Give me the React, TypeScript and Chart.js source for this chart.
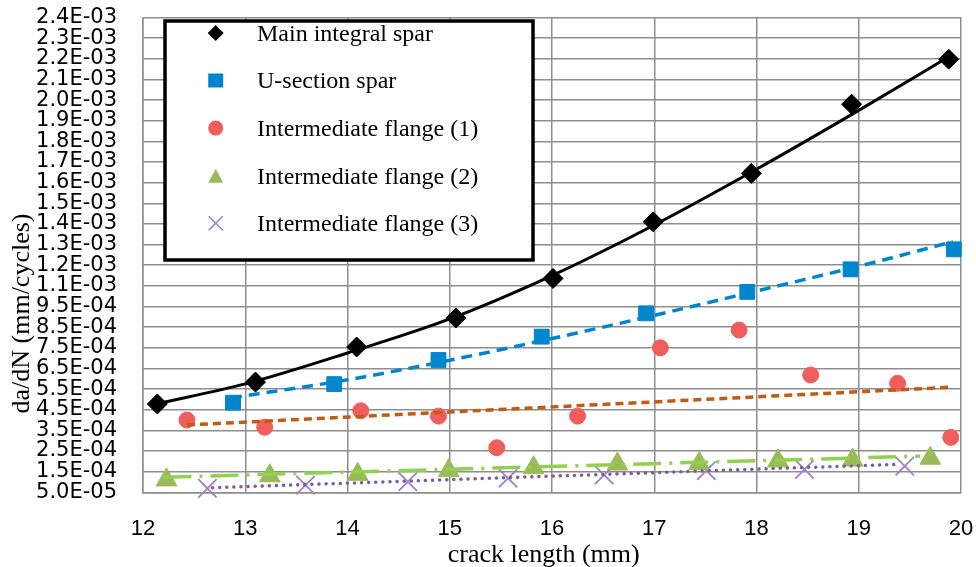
import React, { useEffect, useRef } from 'react';
import { Chart, registerables } from 'chart.js';

Chart.register(...registerables);

// ---------- data ----------
const mainX = [12.14, 13.1, 14.09, 15.06, 16.01, 16.99, 17.95, 18.93, 19.88];
const mainY = [4.78e-4, 5.84e-4, 7.54e-4, 8.94e-4, 1.086e-3, 1.36e-3, 1.595e-3, 1.93e-3, 2.148e-3];
const mainTrendX = [12.13, 13, 14, 15, 16, 17, 18, 19, 19.88];
const mainTrendY = [4.78e-4, 5.75e-4, 7.25e-4, 8.9e-4, 1.1e-3, 1.345e-3, 1.615e-3, 1.9e-3, 2.16e-3];

const uX = [12.88, 13.87, 14.89, 15.9, 16.92, 17.91, 18.92, 19.93];
const uY = [4.84e-4, 5.74e-4, 6.91e-4, 8.04e-4, 9.17e-4, 1.021e-3, 1.13e-3, 1.227e-3];
const uTrendX = [12.86, 14, 15, 16, 17, 18, 19, 19.92];
const uTrendY = [5.07e-4, 5.95e-4, 6.9e-4, 7.95e-4, 9.07e-4, 1.025e-3, 1.145e-3, 1.264e-3];

const f1X = [12.43, 13.19, 14.13, 14.89, 15.46, 16.25, 17.06, 17.83, 18.53, 19.38, 19.9];
const f1Y = [4.0e-4, 3.65e-4, 4.45e-4, 4.19e-4, 2.66e-4, 4.19e-4, 7.5e-4, 8.36e-4, 6.18e-4, 5.78e-4, 3.16e-4];
const f1TrendX = [12.43, 19.9];
const f1TrendY = [3.76e-4, 5.59e-4];

const f2X = [12.23, 13.24, 14.1, 14.99, 15.82, 16.64, 17.44, 18.21, 18.94, 19.7];
const f2Y = [1.1e-4, 1.3e-4, 1.37e-4, 1.55e-4, 1.69e-4, 1.87e-4, 1.9e-4, 2.02e-4, 2.06e-4, 2.15e-4];
const f2TrendX = [12.2, 19.6];
const f2TrendY = [1.23e-4, 2.25e-4];

const f3X = [12.63, 13.59, 14.59, 15.57, 16.51, 17.51, 18.47, 19.45];
const f3Y = [6.9e-5, 8.5e-5, 1.01e-4, 1.18e-4, 1.34e-4, 1.55e-4, 1.61e-4, 1.77e-4];
const f3TrendX = [12.68, 19.41];
const f3TrendY = [7.2e-5, 1.86e-4];

const seriesNames = [
  'Main integral spar',
  'U-section spar',
  'Intermediate flange (1)',
  'Intermediate flange (2)',
  'Intermediate flange (3)',
];

const yTickValues = [
  5e-5, 1.5e-4, 2.5e-4, 3.5e-4, 4.5e-4, 5.5e-4, 6.5e-4, 7.5e-4, 8.5e-4, 9.5e-4,
  1.05e-3, 1.15e-3, 1.25e-3, 1.35e-3, 1.45e-3, 1.55e-3, 1.65e-3, 1.75e-3, 1.85e-3,
  1.95e-3, 2.05e-3, 2.15e-3, 2.25e-3, 2.35e-3,
];
const yTickLabels = [
  '5.0E-05', '1.5E-04', '2.5E-04', '3.5E-04', '4.5E-04', '5.5E-04', '6.5E-04', '7.5E-04', '8.5E-04', '9.5E-04',
  '1.1E-03', '1.2E-03', '1.3E-03', '1.4E-03', '1.5E-03', '1.6E-03', '1.7E-03', '1.8E-03', '1.9E-03',
  '2.0E-03', '2.1E-03', '2.2E-03', '2.3E-03', '2.4E-03',
];
const xTitle = 'crack length (mm)';
const yTitle = 'da/dN (mm/cycles)';

// ---------- styles ----------
const BLACK = '#000000';
const BLUE = '#0086CC';
const RED = '#EF5E5D';
const ORANGE = '#C55A11';
const GREEN = '#9BBB59';
const GREEN_LINE = '#92D050';
const PURPLE = '#9C82C6';
const PURPLE_LINE = '#7A5E9E';
const GRID = '#8e8e8e';
const SERIF = "'Liberation Serif', 'Times New Roman', serif";

const pts = (xs: number[], ys: number[]) => xs.map((x, i) => ({ x, y: ys[i] }));

type Kind = 'diamond' | 'square' | 'circle' | 'triangle' | 'cross';

function drawMarker(ctx: CanvasRenderingContext2D, kind: Kind, x: number, y: number, color: string) {
  ctx.save();
  ctx.fillStyle = color;
  ctx.strokeStyle = color;
  ctx.beginPath();
  if (kind === 'diamond') {
    ctx.moveTo(x, y - 8);
    ctx.lineTo(x + 8, y);
    ctx.lineTo(x, y + 8);
    ctx.lineTo(x - 8, y);
    ctx.closePath();
    ctx.fill();
  } else if (kind === 'square') {
    ctx.rect(x - 7.5, y - 7, 15, 14);
    ctx.fill();
  } else if (kind === 'circle') {
    ctx.arc(x, y, 7.5, 0, Math.PI * 2);
    ctx.fill();
  } else if (kind === 'triangle') {
    ctx.moveTo(x, y - 7);
    ctx.lineTo(x + 7.5, y + 7);
    ctx.lineTo(x - 7.5, y + 7);
    ctx.closePath();
    ctx.fill();
  } else {
    ctx.lineWidth = 1.6;
    ctx.moveTo(x - 7, y - 7);
    ctx.lineTo(x + 7, y + 7);
    ctx.moveTo(x + 7, y - 7);
    ctx.lineTo(x - 7, y + 7);
    ctx.stroke();
  }
  ctx.restore();
}

const overlayPlugin = {
  id: 'overlay',
  afterDraw(chart: any) {
    const ctx: CanvasRenderingContext2D = chart.ctx;
    ctx.save();
    // legend box
    ctx.fillStyle = '#ffffff';
    ctx.fillRect(165, 21, 368, 239);
    ctx.lineWidth = 3.5;
    ctx.strokeStyle = '#000';
    ctx.strokeRect(165, 21, 368, 239);
    const kinds: Kind[] = ['diamond', 'square', 'circle', 'triangle', 'cross'];
    const colors = [BLACK, BLUE, RED, GREEN, PURPLE];
    ctx.font = `24px ${SERIF}`;
    ctx.textAlign = 'left';
    ctx.textBaseline = 'alphabetic';
    seriesNames.forEach((name, i) => {
      const base = 40.7 + i * 47.6;
      drawMarker(ctx, kinds[i], 215.7, base - 7.8, colors[i]);
      ctx.fillStyle = '#000';
      ctx.fillText(name, 257, base);
    });
    // axis titles
    ctx.font = `26px ${SERIF}`;
    ctx.fillStyle = '#000';
    ctx.textAlign = 'center';
    ctx.textBaseline = 'alphabetic';
    ctx.fillText(xTitle, 543.7, 561.5);
    ctx.translate(29.3, 313.5);
    ctx.rotate(-Math.PI / 2);
    ctx.fillText(yTitle, 0, 0);
    ctx.restore();
  },
};

export default function App() {
  const canvasRef = useRef<HTMLCanvasElement | null>(null);

  useEffect(() => {
    if (!canvasRef.current) return;
    const trend = (xs: number[], ys: number[], color: string, width: number, dash: number[], cap: CanvasLineCap = 'butt', smooth = false) => ({
      data: pts(xs, ys),
      showLine: true,
      borderColor: color,
      backgroundColor: color,
      borderWidth: width,
      borderDash: dash,
      borderCapStyle: cap,
      pointRadius: 0,
      pointHoverRadius: 0,
      cubicInterpolationMode: smooth ? 'monotone' : 'default',
      order: 0,
      clip: false,
    });
    const marks = (xs: number[], ys: number[], style: string, radius: number, fill: string, stroke: string, bw: number) => ({
      data: pts(xs, ys),
      showLine: false,
      pointStyle: style,
      pointRadius: radius,
      pointHoverRadius: radius,
      backgroundColor: fill,
      borderColor: stroke,
      borderWidth: bw,
      order: 1,
      clip: false,
    });

    const chart = new Chart(canvasRef.current, {
      type: 'scatter',
      data: {
        datasets: [
          { label: seriesNames[0] + ' trend', ...trend(mainTrendX, mainTrendY, BLACK, 3, [], 'round', true) },
          { label: seriesNames[1] + ' trend', ...trend(uTrendX, uTrendY, BLUE, 3.5, [11, 7], 'butt', true) },
          { label: seriesNames[2] + ' trend', ...trend(f1TrendX, f1TrendY, ORANGE, 3.5, [8, 5]) },
          { label: seriesNames[3] + ' trend', ...trend(f2TrendX, f2TrendY, GREEN_LINE, 3.5, [28, 8, 3, 8]) },
          { label: seriesNames[4] + ' trend', ...trend(f3TrendX, f3TrendY, PURPLE_LINE, 3.5, [0.1, 7], 'round') },
          { label: seriesNames[0], ...marks(mainX, mainY, 'rectRot', 10, BLACK, BLACK, 1) },
          { label: seriesNames[1], ...marks(uX, uY, 'rect', 10.5, BLUE, BLUE, 1) },
          { label: seriesNames[2], ...marks(f1X, f1Y, 'circle', 8, RED, RED, 1) },
          { label: seriesNames[3], ...marks(f2X, f2Y, 'triangle', 12, GREEN, GREEN, 1) },
          { label: seriesNames[4], ...marks(f3X, f3Y, 'crossRot', 13, PURPLE, PURPLE, 1.8) },
        ] as any,
      },
      options: {
        animation: false,
        responsive: true,
        maintainAspectRatio: false,
        layout: { padding: { top: 17.5, right: 15, left: 0, bottom: 0 } },
        plugins: {
          legend: { display: false },
          tooltip: { enabled: false },
        },
        scales: {
          x: {
            type: 'linear',
            min: 12,
            max: 20,
            afterFit: (s: any) => {
              s.height = 74.7;
              s.paddingLeft = 0;
              s.paddingRight = 0;
            },
            ticks: {
              stepSize: 1,
              color: '#000',
              padding: 23,
              font: { family: "'Liberation Sans', Arial, sans-serif", size: 22 },
            },
            grid: { color: GRID, lineWidth: 1.5, drawTicks: false },
            border: { color: GRID, width: 1.5 },
          },
          y: {
            type: 'linear',
            min: 5e-5,
            max: 2.35e-3,
            afterFit: (s: any) => {
              s.width = 143;
              s.paddingTop = 0;
              s.paddingBottom = 0;
            },
            afterBuildTicks: (s: any) => { s.ticks = yTickValues.map((v) => ({ value: v })); },
            ticks: {
              autoSkip: false,
              color: '#000',
              padding: 26,
              font: { family: "'DejaVu Sans', sans-serif", size: 21 },
              callback: (_v: any, i: number) => yTickLabels[i],
            },
            grid: { color: GRID, lineWidth: 1.5, drawTicks: false },
            border: { color: GRID, width: 1.5 },
          },
        },
      } as any,
      plugins: [overlayPlugin],
    });
    return () => chart.destroy();
  }, []);

  return (
    <div style={{ position: 'fixed', left: 0, top: 0, width: '976px', height: '567px', background: '#fff' }}>
      <canvas ref={canvasRef} />
    </div>
  );
}
